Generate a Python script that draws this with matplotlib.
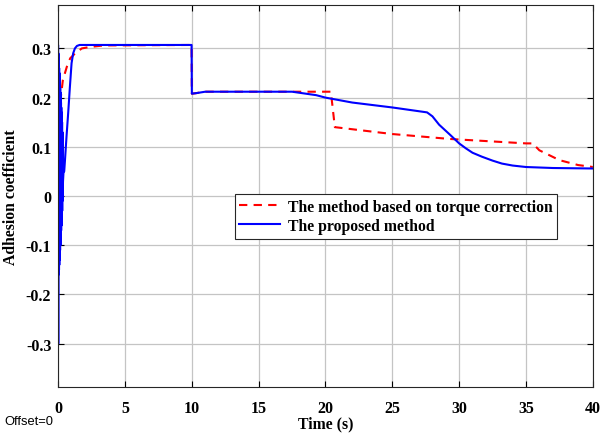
import matplotlib
matplotlib.use('Agg')
import matplotlib.pyplot as plt
from matplotlib.ticker import FuncFormatter

# proposed method (blue) - early oscillation then settling
t_prop = [0.0, 0.005, 0.01, 0.02, 0.03, 0.04, 0.05, 0.06, 0.07, 0.08, 0.09, 0.10,
          0.11, 0.12, 0.13, 0.14, 0.15, 0.16, 0.17, 0.18, 0.19, 0.20, 0.21, 0.22,
          0.23, 0.24, 0.25, 0.26, 0.27, 0.28, 0.29, 0.30, 0.31, 0.32, 0.33, 0.34,
          0.36, 0.40, 0.45, 0.5, 0.62,
          0.75, 0.87, 1.0, 1.12, 1.25, 1.4, 1.6, 2.0, 9.98, 10.0, 10.3, 11.0,
          17.5, 19.3, 20.0, 22.0, 25.0, 27.6, 28.0, 28.5, 29.3, 30.0, 30.5,
          31.0, 31.7, 32.5, 33.2, 34.0, 35.0, 37.0, 40.0]
y_prop = [0.305, -0.30, 0.29, -0.16, 0.28, -0.155, 0.27, -0.15, 0.26, -0.14, 0.25, -0.13,
          0.24, -0.12, 0.23, -0.11, 0.22, -0.10, 0.21, -0.09, 0.20, -0.08, 0.19, -0.07,
          0.18, -0.06, 0.17, -0.05, 0.16, -0.04, 0.15, -0.03, 0.13, -0.01, 0.11, 0.01,
          0.03, 0.05, 0.05, 0.07, 0.12,
          0.17, 0.22, 0.27, 0.29, 0.30, 0.305, 0.307, 0.307, 0.307, 0.208, 0.209, 0.212,
          0.212, 0.205, 0.200, 0.190, 0.180, 0.170, 0.162, 0.145, 0.125, 0.107, 0.097,
          0.088, 0.080, 0.072, 0.066, 0.062, 0.059, 0.057, 0.056]

# method based on torque correction (red dashed)
t_torq = [0.15, 0.35, 0.65, 0.9, 1.27, 1.77, 2.4, 3.4, 9.98, 10.0, 10.3, 11.0,
          17.5, 20.4, 20.7, 25.0, 29.3, 35.0, 35.5, 36.0, 37.5, 38.2, 38.9, 39.75, 40.0]
y_torq = [0.19, 0.236, 0.263, 0.28, 0.29, 0.30, 0.303, 0.306, 0.307, 0.208, 0.209, 0.212,
          0.212, 0.212, 0.140, 0.126, 0.116, 0.107, 0.107, 0.093, 0.073, 0.068, 0.063, 0.060, 0.059]

x_ticks = [0, 5, 10, 15, 20, 25, 30, 35, 40]
y_ticks = [-0.3, -0.2, -0.1, 0, 0.1, 0.2, 0.3]

plt.rcParams['font.family'] = ['Liberation Serif', 'DejaVu Serif']
plt.rcParams['font.weight'] = 'bold'

fig = plt.figure(figsize=(6, 4.35), dpi=100)
ax = fig.add_axes([0.097, 0.108, 0.891, 0.878])

ax.plot(t_torq, y_torq, color='#ff0000', linestyle='--', linewidth=1.5,
        dashes=(4, 3), label='The method based on torque correction')
ax.plot(t_prop, y_prop, color='#0000ff', linewidth=1.5, label='The proposed method')

ax.set_xlim(0, 40)
ax.set_ylim(-0.388, 0.388)
ax.set_xticks(x_ticks)
ax.set_yticks(y_ticks)
ax.yaxis.set_major_formatter(FuncFormatter(lambda v, p: '0' if abs(v) < 1e-9 else f'{v:g}'))
ax.tick_params(direction='in', top=True, right=True, labelsize=11.5, length=4, width=0.8)
ax.tick_params(axis='x', pad=9)
ax.tick_params(axis='y', pad=5)
ax.grid(True, color='#c4c4c4', linewidth=0.9)
for s in ax.spines.values():
    s.set_color('#262626')
    s.set_linewidth(0.8)

ax.set_xlabel('Time (s)', fontsize=11.3, fontweight='bold', labelpad=0)
ax.set_ylabel('Adhesion coefficient', fontsize=11.3, fontweight='bold', labelpad=5)

leg = ax.legend(loc='upper left', bbox_to_anchor=(0.33, 0.505), fontsize=11.3,
                frameon=True, fancybox=False, edgecolor='#262626', framealpha=1,
                handlelength=2.6, borderpad=0.3, labelspacing=0.2, handletextpad=0.5,
                borderaxespad=0)
leg.get_frame().set_linewidth(0.8)

fig.text(0.008, 0.03, 'Offset=0', fontsize=9.3, family=['Liberation Sans', 'DejaVu Sans'],
         fontweight='normal', va='center')

fig.savefig('out.png', dpi=100)
